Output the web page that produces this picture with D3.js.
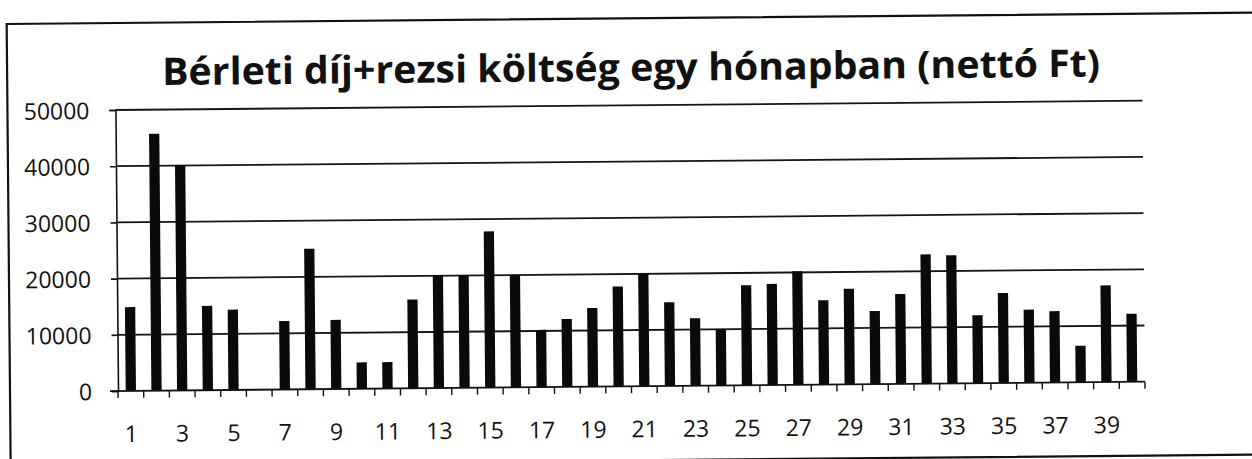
<!DOCTYPE html>
<html>
<head>
<meta charset="utf-8">
<script src="https://cdn.jsdelivr.net/npm/d3@7"></script>
<style>
  html, body { margin: 0; padding: 0; background: #fff; }
  svg { display: block; }
  text { font-family: "Open Sans", "Noto Sans", sans-serif; fill: #111; }
</style>
</head>
<body>
<script>
// Monthly rent + utilities, net HUF, per respondent
const titleText = "Bérleti díj+rezsi költség egy hónapban (nettó Ft)";
const categories = d3.range(1, 41);
const costs = [
  14900, 45700, 40000, 15000, 14300, 0, 12200, 25000, 12300, 4700,
  4700, 15800, 20000, 20000, 27800, 20000, 10200, 12100, 14000, 17800,
  20000, 14900, 12000, 10000, 17800, 18000, 20200, 15000, 17000, 13000,
  16000, 23000, 22800, 12100, 16000, 13000, 12700, 6500, 17200, 12100
];
const yTicks = [0, 10000, 20000, 30000, 40000, 50000];
const xLabelEvery = 2;

const W = 1252, H = 459;
const plot = { left: 118, right: 1145, top: 110, bottom: 391 };

const svg = d3.select("body").append("svg")
  .attr("width", W).attr("height", H);

// whole sheet sits at a slight tilt
const g = svg.append("g")
  .attr("transform", `rotate(-0.52, ${plot.left}, ${plot.bottom})`);

// outer chart frame
g.append("rect")
  .attr("x", 10).attr("y", 23)
  .attr("width", 1320).attr("height", 442)
  .attr("fill", "none").attr("stroke", "#111").attr("stroke-width", 2.2);

const x = d3.scaleBand()
  .domain(categories)
  .range([plot.left, plot.right])
  .paddingInner(0.6)
  .paddingOuter(0.3);

const y = d3.scaleLinear()
  .domain([0, 50000])
  .range([plot.bottom, plot.top]);

// title
g.append("text")
  .attr("x", 634).attr("y", 85.5)
  .attr("text-anchor", "middle")
  .attr("font-family", "Lato, 'Open Sans', sans-serif")
  .attr("font-weight", 700)
  .attr("font-size", 38)
  .attr("textLength", 938)
  .attr("lengthAdjust", "spacingAndGlyphs")
  .text(titleText);

// horizontal gridlines
g.append("g").selectAll("line")
  .data(yTicks.filter(d => d > 0))
  .join("line")
  .attr("x1", plot.left).attr("x2", plot.right)
  .attr("y1", d => y(d)).attr("y2", d => y(d))
  .attr("stroke", "#151515").attr("stroke-width", 1.8);

// y axis
const yAxis = g.append("g")
  .attr("transform", `translate(${plot.left},0)`)
  .call(d3.axisLeft(y).tickValues(yTicks).tickSize(6).tickPadding(20).tickFormat(d3.format("d")));
yAxis.select(".domain").attr("stroke", "#111").attr("stroke-width", 1.6);
yAxis.selectAll(".tick line").attr("stroke", "#111").attr("stroke-width", 1.6);
yAxis.selectAll(".tick text")
  .attr("font-size", 23)
  .attr("font-family", "'Open Sans', sans-serif")
  .attr("font-weight", 500)
  .attr("fill", "#111")
  .attr("dy", "0.36em");

// bars
g.append("g").selectAll("rect")
  .data(categories.map((c, i) => ({ c, v: costs[i] })))
  .join("rect")
  .attr("x", d => x(d.c))
  .attr("width", x.bandwidth())
  .attr("y", d => y(d.v))
  .attr("height", d => y(0) - y(d.v))
  .attr("fill", "#0a0a0a");

// x axis: line, boundary ticks, odd labels
const xg = g.append("g");
xg.append("line")
  .attr("x1", plot.left - 8).attr("x2", plot.right)
  .attr("y1", y(0)).attr("y2", y(0))
  .attr("stroke", "#111").attr("stroke-width", 1.8);
const bounds = d3.range(categories.length + 1).map(i => plot.left + i * x.step());
xg.selectAll(".bt")
  .data(bounds)
  .join("line")
  .attr("class", "bt")
  .attr("x1", d => d).attr("x2", d => d)
  .attr("y1", y(0)).attr("y2", y(0) + 7)
  .attr("stroke", "#111").attr("stroke-width", 1.4);
xg.selectAll(".xl")
  .data(categories.filter((c, i) => i % xLabelEvery === 0))
  .join("text")
  .attr("class", "xl")
  .attr("x", d => x(d) + x.bandwidth() / 2)
  .attr("y", 442)
  .attr("text-anchor", "middle")
  .attr("font-size", 23)
  .attr("font-weight", 500)
  .text(d => d);
</script>
</body>
</html>
